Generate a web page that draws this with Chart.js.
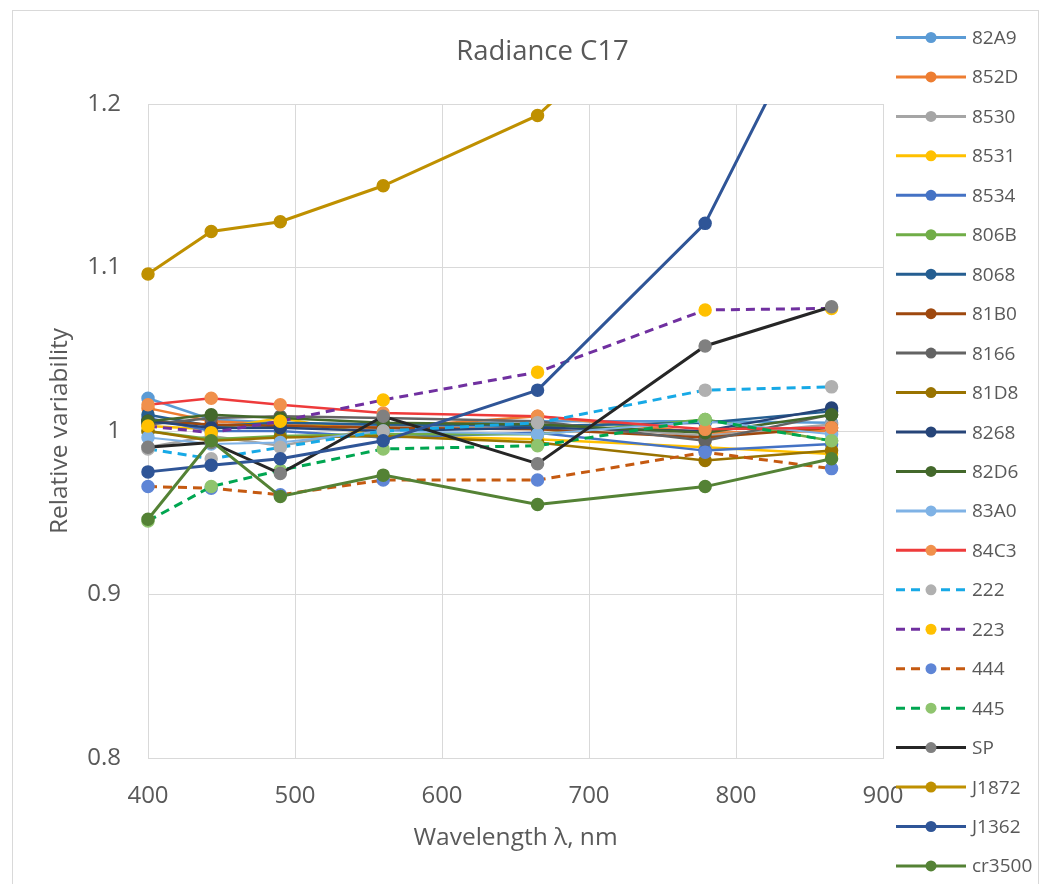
<!DOCTYPE html>
<html>
<head>
<meta charset="utf-8">
<title>Radiance C17</title>
<script src="https://cdn.jsdelivr.net/npm/chart.js@4.4.1/dist/chart.umd.min.js"></script>
<style>
  html, body { margin: 0; padding: 0; background: #ffffff; overflow: hidden; }
  canvas { display: block; }
</style>
</head>
<body>
<canvas id="chart" width="1041" height="884"></canvas>
<script>
// Band centre wavelengths (nm)
const wavelengths = [400, 443, 490, 560, 665, 779, 865];

// Axis ticks
const xTickValues = [400, 500, 600, 700, 800, 900];
const yTickValues = [0.8, 0.9, 1.0, 1.1, 1.2];

const chartTitle = 'Radiance C17';
const xAxisTitle = 'Wavelength \u03bb, nm';
const yAxisTitle = 'Relative variability';

// Relative variability per instrument, one value per band
const v82A9   = [1.020, 1.007, 1.005, 1.003, 1.006, 1.006, 1.005];
const v852D   = [1.014, 1.006, 1.004, 1.002, 1.009, 0.999, 1.000];
const v8530   = [0.990, 0.997, 0.991, 1.002, 1.005, 0.997, 1.004];
const v8531   = [1.003, 1.001, 1.008, 0.997, 0.995, 0.990, 0.986];
const v8534   = [1.008, 1.000, 1.000, 0.996, 0.999, 0.988, 0.992];
const v806B   = [1.000, 0.995, 0.997, 0.998, 0.998, 1.007, 0.994];
const v8068   = [1.010, 1.003, 1.005, 1.004, 1.003, 1.005, 1.012];
const v81B0   = [1.006, 1.004, 1.003, 1.002, 1.001, 0.996, 1.002];
const v8166   = [1.004, 1.008, 1.009, 1.008, 1.006, 0.994, 1.010];
const v81D8   = [1.000, 0.994, 0.996, 0.997, 0.993, 0.982, 0.988];
const v8268   = [1.006, 1.002, 1.002, 1.000, 1.002, 1.000, 1.014];
const v82D6   = [1.006, 1.010, 1.008, 1.005, 1.004, 0.999, 1.010];
const v83A0   = [0.996, 0.992, 0.993, 1.000, 0.998, 1.006, 0.998];
const v84C3   = [1.016, 1.020, 1.016, 1.011, 1.009, 1.001, 1.002];
const v222    = [0.989, 0.983, 0.990, 1.000, 1.005, 1.025, 1.027];
const v223    = [1.003, 0.999, 1.006, 1.019, 1.036, 1.074, 1.075];
const v444    = [0.966, 0.965, 0.961, 0.970, 0.970, 0.987, 0.977];
const v445    = [0.945, 0.966, 0.976, 0.989, 0.991, 1.007, 0.994];
const vSP     = [0.990, 0.993, 0.974, 1.009, 0.980, 1.052, 1.076];
const vJ1872  = [1.096, 1.122, 1.128, 1.150, 1.193, 1.287, 1.330];
const vJ1362  = [0.975, 0.979, 0.983, 0.994, 1.025, 1.127, 1.280];
const vcr3500 = [0.946, 0.994, 0.960, 0.973, 0.955, 0.966, 0.983];

const seriesNames = ['82A9', '852D', '8530', '8531', '8534', '806B', '8068', '81B0',
  '8166', '81D8', '8268', '82D6', '83A0', '84C3', '222', '223', '444', '445',
  'SP', 'J1872', 'J1362', 'cr3500'];
const seriesValues = [v82A9, v852D, v8530, v8531, v8534, v806B, v8068, v81B0,
  v8166, v81D8, v8268, v82D6, v83A0, v84C3, v222, v223, v444, v445,
  vSP, vJ1872, vJ1362, vcr3500];

// Line colour, marker colour, line width, dashed or not
const seriesStyles = [
  { line: '#5B9BD5', marker: '#5B9BD5', width: 2.5 },
  { line: '#ED7D31', marker: '#ED7D31', width: 2.5 },
  { line: '#A5A5A5', marker: '#A5A5A5', width: 2.5 },
  { line: '#FFC000', marker: '#FFC000', width: 2.5 },
  { line: '#4472C4', marker: '#4472C4', width: 2.5 },
  { line: '#70AD47', marker: '#70AD47', width: 2.5 },
  { line: '#255E91', marker: '#255E91', width: 2.5 },
  { line: '#9E480E', marker: '#9E480E', width: 2.5 },
  { line: '#636363', marker: '#636363', width: 2.5 },
  { line: '#997300', marker: '#997300', width: 2.5 },
  { line: '#264478', marker: '#264478', width: 2.5 },
  { line: '#43682B', marker: '#43682B', width: 2.5 },
  { line: '#7FB2E5', marker: '#7FB2E5', width: 2 },
  { line: '#EE3B3B', marker: '#F0904C', width: 2.5 },
  { line: '#17A9E6', marker: '#B0B0B0', width: 3, dashed: true },
  { line: '#7030A0', marker: '#FFC000', width: 3, dashed: true },
  { line: '#C55A11', marker: '#5E85D6', width: 3, dashed: true },
  { line: '#00A651', marker: '#8FC46E', width: 3, dashed: true },
  { line: '#262626', marker: '#808080', width: 3 },
  { line: '#BF9000', marker: '#BF9000', width: 3 },
  { line: '#2F5597', marker: '#2F5597', width: 3 },
  { line: '#548235', marker: '#548235', width: 3 }
];

const DASH = [9, 6];
const TEXT = '#595959';
const GRID = '#D9D9D9';
const FONT = '"Open Sans", "Noto Sans", sans-serif';

const datasets = seriesNames.map((name, i) => {
  const st = seriesStyles[i];
  return {
    label: name,
    data: wavelengths.map((w, k) => ({ x: w, y: seriesValues[i][k] })),
    borderColor: st.line,
    backgroundColor: st.marker,
    borderWidth: st.width,
    borderDash: st.dashed ? DASH : [],
    pointBackgroundColor: st.marker,
    pointBorderColor: st.marker,
    pointRadius: 6,
    pointBorderWidth: 1.5,
    pointHoverRadius: 6,
    tension: 0,
    fill: false,
    // later series are painted over earlier ones
    order: seriesNames.length - i,
    clip: { left: 12, right: 12, top: 0, bottom: 12 }
  };
});

// Chart frame, title and the line/marker legend on the right
const decorPlugin = {
  id: 'decor',
  beforeDraw(chart) {
    const c = chart.ctx;
    c.save();
    c.fillStyle = '#ffffff';
    c.fillRect(0, 0, chart.width, chart.height);
    c.strokeStyle = GRID;
    c.lineWidth = 1;
    c.strokeRect(12.5, 10.5, 1026, 900);
    c.restore();
  },
  afterDraw(chart) {
    const c = chart.ctx;
    c.save();
    c.fillStyle = TEXT;
    c.font = '27.5px ' + FONT;
    c.textAlign = 'center';
    c.textBaseline = 'alphabetic';
    c.fillText(chartTitle, 542.5, 60);

    chart.data.datasets.forEach((ds, i) => {
      const y = 37.5 + i * 39.45;
      c.strokeStyle = ds.borderColor;
      c.lineWidth = 3;
      c.setLineDash(ds.borderDash || []);
      c.beginPath();
      c.moveTo(896, y);
      c.lineTo(966, y);
      c.stroke();
      c.setLineDash([]);
      c.fillStyle = ds.pointBackgroundColor;
      c.beginPath();
      c.arc(931, y, 5.5, 0, Math.PI * 2);
      c.fill();
      c.fillStyle = TEXT;
      c.font = '19px ' + FONT;
      c.textAlign = 'left';
      c.fillText(ds.label, 972, y + 6.5);
    });
    c.restore();
  }
};

new Chart(document.getElementById('chart'), {
  type: 'line',
  data: { datasets },
  options: {
    responsive: false,
    animation: false,
    events: [],
    layout: { padding: { left: 0, right: 158, top: 104, bottom: 0 } },
    plugins: {
      legend: { display: false },
      title: { display: false },
      tooltip: { enabled: false }
    },
    scales: {
      x: {
        type: 'linear',
        min: 400,
        max: 900,
        afterBuildTicks(s) { s.ticks = xTickValues.map(v => ({ value: v })); },
        afterFit(s) { s.height = 126; },
        grid: { color: GRID, lineWidth: 1, drawTicks: false },
        border: { display: true, color: GRID, width: 1 },
        ticks: {
          padding: 24,
          color: TEXT,
          font: { family: FONT, size: 24 },
          maxRotation: 0,
          callback: v => String(v)
        },
        title: {
          display: true,
          text: xAxisTitle,
          color: TEXT,
          font: { family: FONT, size: 24.5 },
          padding: { top: 0, bottom: 31 }
        }
      },
      y: {
        type: 'linear',
        min: 0.8,
        max: 1.2,
        afterBuildTicks(s) { s.ticks = yTickValues.map(v => ({ value: v })); },
        afterFit(s) { s.width = 148; },
        grid: { color: GRID, lineWidth: 1, drawTicks: false },
        border: { display: true, color: GRID, width: 1 },
        ticks: {
          padding: 27,
          color: TEXT,
          font: { family: FONT, size: 24 },
          callback: v => String(+Number(v).toFixed(1))
        },
        title: {
          display: true,
          text: yAxisTitle,
          color: TEXT,
          font: { family: FONT, size: 24.5 },
          padding: { top: 45, bottom: 0 }
        }
      }
    }
  },
  plugins: [decorPlugin]
});
</script>
</body>
</html>
